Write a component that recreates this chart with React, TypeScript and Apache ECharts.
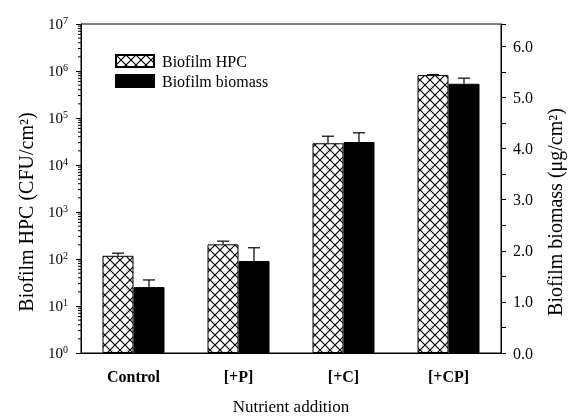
import React, { useEffect, useRef } from 'react';
import * as echarts from 'echarts';

const categories = ['Control', '[+P]', '[+C]', '[+CP]'];
const hpcValues = [117, 205, 29000, 820000];
const hpcErrorTop = [133, 240, 41000, 840000];
const biomassValues = [1.29, 1.8, 4.13, 5.27];
const biomassErrorTop = [1.43, 2.06, 4.31, 5.38];
const hpcAxisMin = 1;
const hpcAxisMax = 1e7;
const biomassAxisMax = 6.44;
const leftTitle = 'Biofilm HPC (CFU/cm²)';
const rightTitle = 'Biofilm biomass (μg/cm²)';

const FONT = '"Liberation Serif", "Times New Roman", serif';

function makeHatch(): HTMLCanvasElement {
  const s = 10;
  const c = document.createElement('canvas');
  c.width = s;
  c.height = s;
  const ctx = c.getContext('2d')!;
  ctx.fillStyle = '#fff';
  ctx.fillRect(0, 0, s, s);
  ctx.strokeStyle = '#000';
  ctx.lineWidth = 1.2;
  ctx.beginPath();
  ctx.moveTo(-1, -1);
  ctx.lineTo(s + 1, s + 1);
  ctx.moveTo(-1, s + 1);
  ctx.lineTo(s + 1, -1);
  ctx.stroke();
  return c;
}

export default function App() {
  const ref = useRef<HTMLDivElement>(null);
  useEffect(() => {
    if (!ref.current) return;
    const chart = echarts.init(ref.current, null, { renderer: 'svg' });
    const hatch = makeHatch();
    const barWidth = 31;

    const minorLog: number[][] = [];
    for (let k = 0; k < 7; k++) {
      for (let m = 2; m <= 9; m++) minorLog.push([0, m * Math.pow(10, k)]);
    }

    const errRender = (offset: number) => (params: any, api: any) => {
      const base = api.coord([api.value(0), api.value(1)]);
      const top = api.coord([api.value(0), api.value(2)]);
      const x = base[0] + offset;
      return {
        type: 'group',
        children: [
          { type: 'line', shape: { x1: x, y1: base[1], x2: x, y2: top[1] }, style: { stroke: '#000', lineWidth: 1.2 } },
          { type: 'line', shape: { x1: x - 6, y1: top[1], x2: x + 6, y2: top[1] }, style: { stroke: '#000', lineWidth: 1.2 } },
        ],
      };
    };

    chart.setOption({
      animation: false,
      textStyle: { fontFamily: FONT, color: '#000' },
      grid: { left: 81, right: 69, top: 24, bottom: 61, show: true, borderColor: '#000', borderWidth: 1, backgroundColor: 'transparent' },
      legend: {
        data: ['Biofilm HPC', 'Biofilm biomass'],
        orient: 'vertical',
        left: 115,
        top: 53,
        padding: 0,
        itemWidth: 38,
        itemHeight: 12,
        itemGap: 4,
        textStyle: { fontFamily: FONT, fontSize: 16, color: '#000', padding: [0, 0, 0, 3] },
        icon: 'rect',
      },
      graphic: [
        {
          type: 'text',
          x: 26,
          y: 212,
          rotation: Math.PI / 2,
          style: { text: leftTitle, fontFamily: FONT, fontSize: 20, fill: '#000', align: 'center', verticalAlign: 'middle' },
        },
        {
          type: 'text',
          x: 555,
          y: 212,
          rotation: Math.PI / 2,
          style: { text: rightTitle, fontFamily: FONT, fontSize: 20, fill: '#000', align: 'center', verticalAlign: 'middle' },
        },
      ],
      xAxis: {
        type: 'category',
        data: categories,
        axisLine: { lineStyle: { color: '#000', width: 1 } },
        axisTick: { alignWithLabel: true, length: 5, lineStyle: { color: '#000' } },
        axisLabel: { fontFamily: FONT, fontSize: 16, fontWeight: 'bold', color: '#000', margin: 15 },
        name: 'Nutrient addition',
        nameLocation: 'middle',
        nameGap: 45,
        nameTextStyle: { fontFamily: FONT, fontSize: 17, color: '#000' },
      },
      yAxis: [
        {
          type: 'log',
          logBase: 10,
          min: hpcAxisMin,
          max: hpcAxisMax,
          interval: 1,
          axisLine: { show: true, lineStyle: { color: '#000', width: 1 } },
          axisTick: { show: true, length: 5, lineStyle: { color: '#000' } },
          splitLine: { show: false },
          axisLabel: {
            margin: 13,
            formatter: (v: number) => `{b|10}{s|${Math.round(Math.log10(v))}}`,
            rich: {
              b: { fontFamily: FONT, fontSize: 15, color: '#000', lineHeight: 17 },
              s: { fontFamily: FONT, fontSize: 10, color: '#000', verticalAlign: 'top', lineHeight: 10 },
            },
          },
        },
        {
          type: 'value',
          min: 0,
          max: biomassAxisMax,
          interval: 0.5,
          position: 'right',
          axisLine: { show: true, lineStyle: { color: '#000', width: 1 } },
          axisTick: { show: true, length: 5, lineStyle: { color: '#000' } },
          splitLine: { show: false },
          axisLabel: {
            margin: 12,
            fontFamily: FONT,
            fontSize: 16,
            color: '#000',
            formatter: (v: number) => (Math.abs(v - Math.round(v)) < 1e-9 && v <= 6 ? v.toFixed(1) : ''),
          },
        },
      ],
      series: [
        {
          name: 'Biofilm HPC',
          type: 'bar',
          yAxisIndex: 0,
          data: hpcValues,
          barWidth,
          barGap: '0%',
          itemStyle: { color: { image: hatch, repeat: 'repeat' } as any, borderColor: '#000', borderWidth: 1 },
        },
        {
          name: 'Biofilm biomass',
          type: 'bar',
          yAxisIndex: 1,
          data: biomassValues,
          barWidth,
          barGap: '0%',
          itemStyle: { color: '#000', borderColor: '#000', borderWidth: 1 },
        },
        {
          type: 'custom',
          yAxisIndex: 0,
          data: categories.map((_, i) => [i, hpcValues[i], hpcErrorTop[i]]),
          encode: { x: 0, y: [1, 2] },
          renderItem: errRender(-barWidth / 2),
          z: 5,
        },
        {
          type: 'custom',
          yAxisIndex: 1,
          data: categories.map((_, i) => [i, biomassValues[i], biomassErrorTop[i]]),
          encode: { x: 0, y: [1, 2] },
          renderItem: errRender(barWidth / 2),
          z: 5,
        },
        {
          type: 'custom',
          yAxisIndex: 0,
          data: minorLog,
          encode: { x: 0, y: 1 },
          renderItem: (params: any, api: any) => {
            const p = api.coord([0, api.value(1)]);
            const cs = params.coordSys;
            return { type: 'line', shape: { x1: cs.x - 3, y1: p[1], x2: cs.x, y2: p[1] }, style: { stroke: '#000', lineWidth: 1 } };
          },
          silent: true,
        },
      ],
    });
    return () => chart.dispose();
  }, []);
  return <div ref={ref} style={{ position: 'fixed', left: 0, top: 0, width: 570, height: 420 }} />;
}
